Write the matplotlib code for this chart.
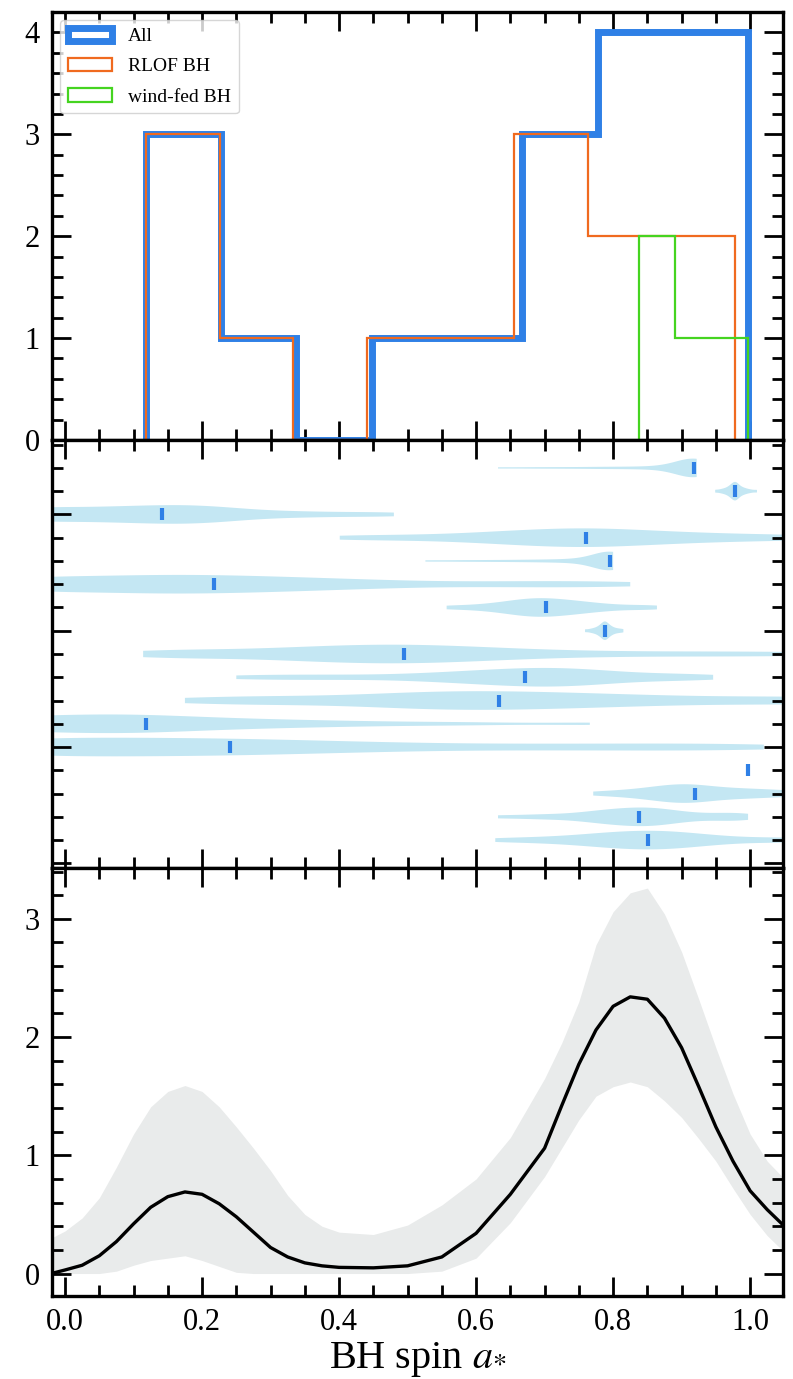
import numpy as np
import matplotlib
matplotlib.use("Agg")
import matplotlib.pyplot as plt
from matplotlib.ticker import MultipleLocator

plt.rcParams["font.family"] = ["Liberation Serif", "DejaVu Serif"]
plt.rcParams["mathtext.fontset"] = "stix"

# spin posterior samples per system, listed top row first
spin_samples = [
    [0.632, 0.685, 0.73, 0.77, 0.80, 0.83, 0.855, 0.875, 0.89, 0.90, 0.908, 0.914, 0.918,
     0.919, 0.919, 0.920, 0.920, 0.920, 0.921, 0.921, 0.921, 0.922, 0.922, 0.922, 0.922],
    [0.949, 0.957, 0.962, 0.966, 0.969, 0.971, 0.973, 0.975, 0.976, 0.977, 0.978,
     0.979, 0.980, 0.981, 0.983, 0.985, 0.988, 0.991, 0.995, 1.001, 1.010],
    [-0.08, -0.06, -0.039, -0.025, -0.01, 0.016, 0.036, 0.056, 0.073, 0.09, 0.107, 0.124, 0.141,
     0.154, 0.168, 0.182, 0.197, 0.213, 0.23, 0.249, 0.276, 0.318, 0.36, 0.42, 0.48],
    [0.401, 0.47, 0.53, 0.58, 0.615, 0.643, 0.667, 0.688, 0.708, 0.727, 0.744, 0.761,
     0.778, 0.796, 0.815, 0.837, 0.86, 0.887, 0.918, 0.955, 1.0, 1.05, 1.12],
    [0.526, 0.575, 0.615, 0.65, 0.68, 0.705, 0.727, 0.745, 0.76, 0.772, 0.782, 0.789, 0.795,
     0.796, 0.796, 0.797, 0.797, 0.798, 0.798, 0.799, 0.799, 0.80, 0.80, 0.80, 0.80],
    [-0.09, -0.06, -0.045, -0.026, 0.016, 0.05, 0.076, 0.102, 0.126, 0.149, 0.173, 0.196, 0.218,
     0.245, 0.272, 0.30, 0.33, 0.364, 0.402, 0.448, 0.508, 0.60, 0.68, 0.75, 0.825],
    [0.557, 0.59, 0.615, 0.631, 0.645, 0.656, 0.664, 0.672, 0.680, 0.688, 0.695, 0.702,
     0.709, 0.717, 0.726, 0.735, 0.744, 0.756, 0.768, 0.784, 0.806, 0.835, 0.864],
    [0.759, 0.767, 0.772, 0.776, 0.779, 0.781, 0.783, 0.785, 0.786, 0.787, 0.788,
     0.789, 0.790, 0.791, 0.793, 0.795, 0.797, 0.800, 0.804, 0.809, 0.815],
    [0.114, 0.15, 0.19, 0.245, 0.295, 0.331, 0.36, 0.386, 0.41, 0.433, 0.453, 0.474, 0.495,
     0.516, 0.538, 0.561, 0.587, 0.616, 0.651, 0.696, 0.756, 0.83, 0.92, 1.0, 1.1],
    [0.25, 0.31, 0.365, 0.42, 0.48, 0.523, 0.556, 0.58, 0.603, 0.623, 0.64, 0.657, 0.672,
     0.686, 0.70, 0.714, 0.729, 0.744, 0.759, 0.775, 0.795, 0.825, 0.87, 0.905, 0.946],
    [0.175, 0.24, 0.295, 0.344, 0.405, 0.451, 0.484, 0.513, 0.539, 0.561, 0.587, 0.611, 0.634,
     0.662, 0.688, 0.716, 0.745, 0.778, 0.815, 0.856, 0.906, 0.97, 1.03, 1.09, 1.15],
    [-0.12, -0.1, -0.085, -0.06, -0.035, -0.012, 0.008, 0.028, 0.047, 0.065, 0.083, 0.1, 0.118,
     0.138, 0.16, 0.185, 0.212, 0.242, 0.277, 0.318, 0.365, 0.42, 0.5, 0.6, 0.766],
    [-0.12, -0.095, -0.07, -0.038, -0.015, 0.004, 0.036, 0.067, 0.096, 0.126, 0.154, 0.183, 0.212,
     0.241, 0.272, 0.306, 0.343, 0.384, 0.43, 0.485, 0.553, 0.642, 0.72, 0.8, 0.88, 0.95, 1.02],
    [0.997],
    [0.771, 0.805, 0.826, 0.846, 0.859, 0.87, 0.879, 0.888, 0.897, 0.905, 0.912, 0.919,
     0.928, 0.939, 0.951, 0.965, 0.98, 0.996, 1.013, 1.032, 1.055, 1.085, 1.15],
    [0.632, 0.68, 0.712, 0.742, 0.763, 0.777, 0.789, 0.80, 0.81, 0.819, 0.829, 0.838,
     0.846, 0.854, 0.862, 0.871, 0.882, 0.895, 0.912, 0.937, 0.965, 0.98, 0.997],
    [0.628, 0.675, 0.709, 0.738, 0.758, 0.776, 0.791, 0.804, 0.816, 0.828, 0.84, 0.851,
     0.862, 0.873, 0.884, 0.896, 0.91, 0.926, 0.945, 0.97, 1.01, 1.05, 1.1],
]
channel = ["RLOF"] * 13 + ["wind"] * 4

# population spin density: median curve and 90% band
grid_x = [-0.02, 0.0, 0.025, 0.05, 0.075, 0.1, 0.125, 0.15, 0.175, 0.2, 0.225, 0.25, 0.275,
          0.3, 0.325, 0.35, 0.375, 0.4, 0.45, 0.5, 0.55, 0.6, 0.65, 0.7, 0.725, 0.75, 0.775,
          0.8, 0.825, 0.85, 0.875, 0.9, 0.925, 0.95, 0.975, 1.0, 1.025, 1.05]
dens_med = [0.0, 0.03, 0.07, 0.15, 0.27, 0.42, 0.56, 0.65, 0.69, 0.67, 0.59, 0.48, 0.35,
            0.22, 0.14, 0.09, 0.065, 0.052, 0.048, 0.065, 0.14, 0.34, 0.67, 1.06, 1.42, 1.77,
            2.06, 2.26, 2.34, 2.32, 2.16, 1.91, 1.58, 1.24, 0.95, 0.70, 0.54, 0.40]
dens_hi = [0.30, 0.36, 0.47, 0.64, 0.90, 1.18, 1.41, 1.54, 1.59, 1.54, 1.41, 1.24, 1.06,
           0.87, 0.66, 0.50, 0.40, 0.35, 0.33, 0.41, 0.58, 0.80, 1.15, 1.65, 1.95, 2.3, 2.78,
           3.06, 3.22, 3.26, 3.04, 2.72, 2.32, 1.91, 1.52, 1.18, 0.95, 0.80]
dens_lo = [0.0, 0.0, 0.0, 0.0, 0.02, 0.07, 0.11, 0.13, 0.15, 0.11, 0.06, 0.01, 0.0,
           0.0, 0.0, 0.0, 0.0, 0.0, 0.0, 0.0, 0.02, 0.13, 0.43, 0.82, 1.06, 1.3, 1.5,
           1.58, 1.62, 1.58, 1.46, 1.32, 1.14, 0.95, 0.72, 0.5, 0.32, 0.18]

c_all = "#2f80e6"
c_rlof = "#f06a1f"
c_wind = "#45d420"
c_violin = "#c4e7f3"

medians = np.array([np.median(s) for s in spin_samples])
is_rlof = np.array([c == "RLOF" for c in channel])

fig, axes = plt.subplots(3, 1, figsize=(7.93, 13.79), dpi=100, sharex=True,
                         gridspec_kw=dict(hspace=0))
fig.subplots_adjust(left=0.0656, right=0.9874, top=0.9913, bottom=0.0602)
ax_h, ax_v, ax_d = axes

# histogram of the median spins
ax_h.hist(medians, bins=8, histtype="step", color=c_all, lw=5, label="All")
ax_h.hist(medians[is_rlof], bins=8, histtype="step", color=c_rlof, lw=1.6, label="RLOF BH")
ax_h.hist(medians[~is_rlof], bins=3, histtype="step", color=c_wind, lw=1.6, label="wind-fed BH")
ax_h.set_ylim(0, 4.2)
ax_h.yaxis.set_major_locator(MultipleLocator(1))
ax_h.yaxis.set_minor_locator(MultipleLocator(0.2))
leg = ax_h.legend(loc="upper left", fontsize=14, handlelength=2.3, labelspacing=0.65,
                  borderaxespad=0.4, fancybox=True, framealpha=0.8)
leg.get_frame().set_edgecolor("#cccccc")

# individual posteriors as violins
n = len(spin_samples)
for i, s in enumerate(spin_samples):
    pos = n - i
    if np.ptp(s) > 0:
        parts = ax_v.violinplot([s], positions=[pos], orientation="horizontal", widths=0.8,
                                showextrema=False, bw_method=0.3, points=300)
        for body in parts["bodies"]:
            body.set_facecolor(c_violin)
            body.set_edgecolor("none")
            body.set_alpha(1)
    ax_v.plot(medians[i], pos, ls="none", marker="|", ms=8, mew=3, color=c_all)
ax_v.set_ylim(-0.2, 18.2)
ax_v.yaxis.set_major_locator(MultipleLocator(5))
ax_v.yaxis.set_minor_locator(MultipleLocator(1))
ax_v.set_yticklabels([])

# inferred population distribution
ax_d.fill_between(grid_x, dens_lo, dens_hi, color="#e9ebeb", lw=0)
ax_d.plot(grid_x, dens_med, color="black", lw=2.4)
ax_d.set_ylim(-0.19, 3.43)
ax_d.yaxis.set_major_locator(MultipleLocator(1))
ax_d.yaxis.set_minor_locator(MultipleLocator(0.2))
ax_d.set_xlim(-0.019, 1.048)
ax_d.xaxis.set_major_locator(MultipleLocator(0.2))
ax_d.xaxis.set_minor_locator(MultipleLocator(0.05))
ax_d.xaxis.set_major_formatter(plt.FuncFormatter(lambda v, p: f"{v:.1f}"))
ax_d.set_xlabel(r"BH spin $a_{*}$", fontsize=29, labelpad=2)

for ax in axes:
    for sp in ax.spines.values():
        sp.set_linewidth(2.4)
    ax.tick_params(which="both", direction="in", top=True, right=True, width=2,
                   labelsize=22, pad=9)
    ax.tick_params(which="major", length=14)
    ax.tick_params(which="minor", length=8)

fig.savefig("out.png", dpi=100)
